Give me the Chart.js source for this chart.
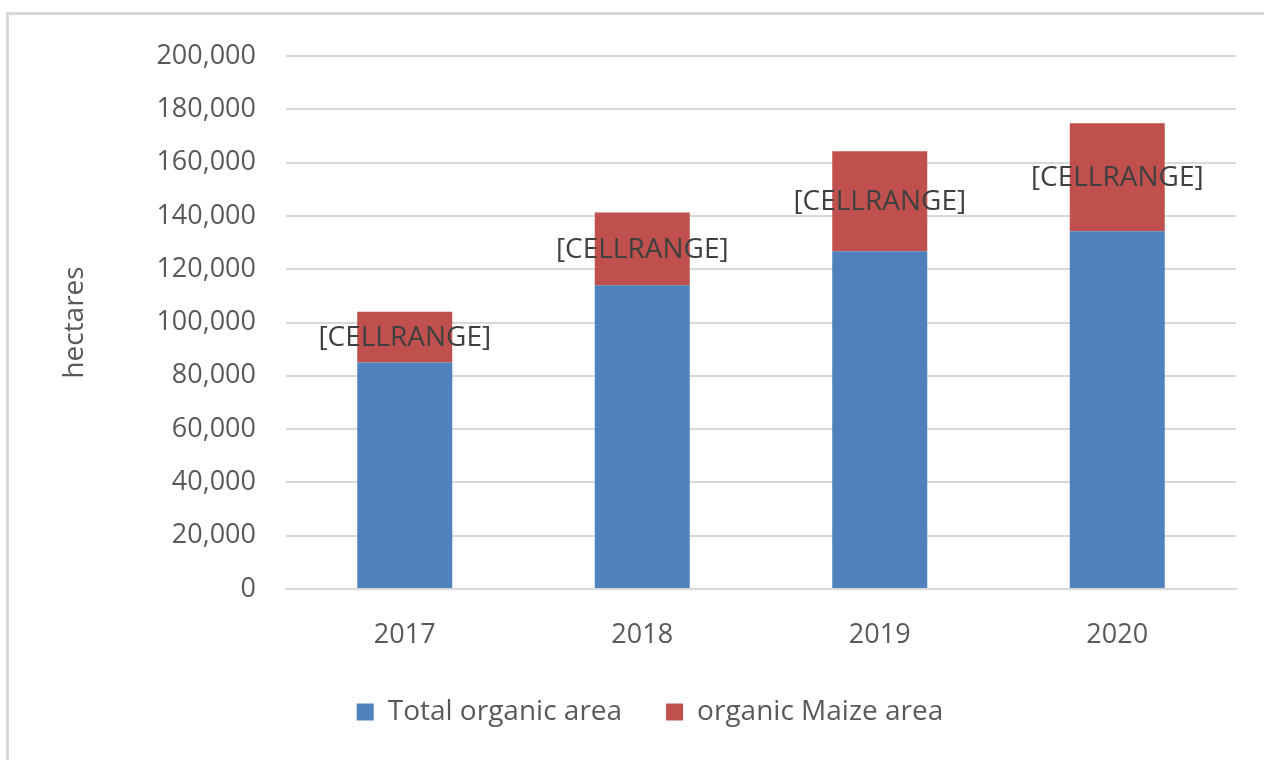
<!DOCTYPE html>
<html>
<head>
<meta charset="utf-8">
<script src="https://cdn.jsdelivr.net/npm/chart.js@4"></script>
<style>
  html, body { margin: 0; padding: 0; background: #fff; overflow: hidden; }
  #frame {
    position: absolute; left: 6px; top: 12px; width: 1400px; height: 900px;
    border-top: 3px solid #d9d9d9; border-left: 3px solid #d9d9d9;
  }
  #wrap { position: absolute; left: 0; top: 0; width: 1264px; height: 760px; }
</style>
</head>
<body>
<div id="frame"></div>
<div id="wrap"><canvas id="areaChart"></canvas></div>
<script>
var years = ["2017", "2018", "2019", "2020"];
var totalOrganic = [85000, 114000, 126700, 134200];
var organicMaize = [19000, 27300, 37600, 40600];
var segmentLabel = "[CELLRANGE]";

var textColor = "#595959";
var fontFamily = "'Open Sans', sans-serif";

// draws the "[CELLRANGE]" text centred on each maize segment
var cellRangeLabels = {
  id: "cellRangeLabels",
  afterLayout: function (chart) {
    // nudge legend to the right like the original
    chart.legend.left += 32;
    chart.legend.right += 32;
  },
  afterDatasetsDraw: function (chart) {
    var ctx = chart.ctx;
    var meta = chart.getDatasetMeta(1);
    ctx.save();
    ctx.font = "28px " + fontFamily;
    ctx.fillStyle = "#404040";
    ctx.textAlign = "center";
    ctx.textBaseline = "middle";
    meta.data.forEach(function (bar) {
      ctx.fillText(segmentLabel, bar.x, (bar.y + bar.base) / 2 + 1);
    });
    ctx.restore();
  },
};

var ctx = document.getElementById("areaChart").getContext("2d");
var areaChart = new Chart(ctx, {
  type: "bar",
  data: {
    labels: years,
    datasets: [
      {
        label: "Total organic area",
        data: totalOrganic,
        backgroundColor: "#4f81bd",
        categoryPercentage: 1,
        barPercentage: 0.4,
      },
      {
        label: "organic Maize area",
        data: organicMaize,
        backgroundColor: "#c0504d",
        categoryPercentage: 1,
        barPercentage: 0.4,
      },
    ],
  },
  options: {
    responsive: true,
    maintainAspectRatio: false,
    animation: false,
    layout: { padding: { top: 56, right: 28, bottom: 24, left: 0 } },
    plugins: {
      legend: {
        position: "bottom",
        labels: {
          color: textColor,
          font: { family: fontFamily, size: 28 },
          boxWidth: 17,
          boxHeight: 17,
          padding: 44,
        },
      },
      tooltip: { enabled: false },
    },
    scales: {
      x: {
        stacked: true,
        grid: { display: false, drawTicks: false },
        border: { color: "#d9d9d9", width: 2 },
        ticks: {
          color: textColor,
          font: { family: fontFamily, size: 27 },
          padding: 30,
        },
        afterFit: function (scale) {
          scale.height = 65;
        },
      },
      y: {
        stacked: true,
        min: 0,
        max: 200000,
        ticks: {
          stepSize: 20000,
          color: textColor,
          font: { family: fontFamily, size: 27 },
          padding: 30,
          callback: function (v) {
            return v.toLocaleString("en-US");
          },
        },
        grid: { color: "#d9d9d9", lineWidth: 2, drawTicks: false },
        border: { display: false },
        title: {
          display: true,
          text: "hectares",
          color: textColor,
          font: { family: fontFamily, size: 28 },
          padding: { top: 58, bottom: 0 },
        },
        afterFit: function (scale) {
          scale.width = 286;
        },
      },
    },
  },
  plugins: [cellRangeLabels],
});
</script>
</body>
</html>
